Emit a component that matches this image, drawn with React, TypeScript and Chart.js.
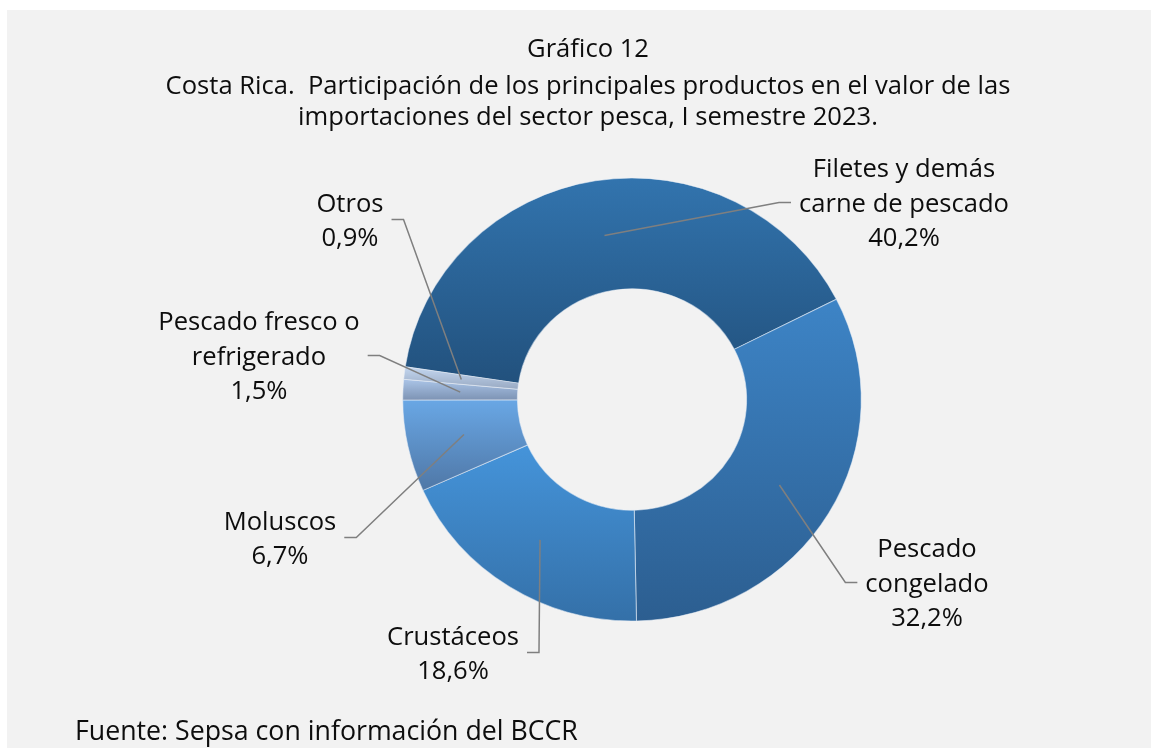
import React, { useEffect, useRef } from "react";
import { Chart, registerables } from "chart.js";

Chart.register(...registerables);

// ---- data ----
const categories: string[][] = [
  ["Filetes y demás", "carne de pescado"],
  ["Pescado", "congelado"],
  ["Crustáceos"],
  ["Moluscos"],
  ["Pescado fresco o", "refrigerado"],
  ["Otros"],
];
const shares: number[] = [40.2, 32.2, 18.6, 6.7, 1.5, 0.9];

const titleLines: string[] = [
  "Gráfico 12",
  "Costa Rica.  Participación de los principales productos en el valor de las",
  "importaciones del sector pesca, I semestre 2023.",
];
const sourceNote = "Fuente: Sepsa con información del BCCR";

// ---- styles / layout ----
const topColors = ["#3274ae", "#3d84c6", "#4594da", "#69a7e5", "#abc5e8", "#c4d7f0"];
const bottomColors = ["#22517d", "#2c5e90", "#3470a8", "#4f77a6", "#7d93b4", "#98a9c2"];
// label block centre, relative to the doughnut centre (px)
const labelOffsets: [number, number][] = [
  [272, -195],
  [295, 185],
  [-179, 255],
  [-352, 140],
  [-373, -42],
  [-282, -178],
];
const ROTATION = -81.5;
const CUTOUT = 0.5;
const X_STRETCH = 1.035;
const FONT_FAMILY = "'Open Sans', Lato, sans-serif";
const TITLE_TARGET_WIDTH = 845;
const SOURCE_SCALE = 1.045;
const TEXT_COLOR = "#0d0d0d";
const LINE_H = 34.5;

const fmtPct = (v: number) => v.toFixed(1).replace(".", ",") + "%";

let fontSize = 22;
const fontOf = (scale = 1) => `${fontSize * scale}px ${FONT_FAMILY}`;

const fitFont = (ctx: CanvasRenderingContext2D) => {
  ctx.save();
  ctx.font = `100px ${FONT_FAMILY}`;
  const w = ctx.measureText(titleLines[1]).width;
  ctx.restore();
  if (w > 0) fontSize = (100 * TITLE_TARGET_WIDTH) / w;
};

const sliceGradient = (c: any) => {
  const i = c.dataIndex;
  const chart = c.chart;
  const area = chart.chartArea;
  if (i === undefined || !area) return topColors[0];
  const total = shares.reduce((a, b) => a + b, 0);
  const before = shares.slice(0, i).reduce((a, b) => a + b, 0);
  const start = ((ROTATION - 90) * Math.PI) / 180 + (before / total) * Math.PI * 2;
  const end = start + (shares[i] / total) * Math.PI * 2;
  const cy = (area.top + area.bottom) / 2;
  const outer = Math.min(area.width, area.height) / 2;
  const inner = outer * CUTOUT;
  let minY = Infinity;
  let maxY = -Infinity;
  for (let k = 0; k <= 60; k++) {
    const a = start + ((end - start) * k) / 60;
    for (const r of [inner, outer]) {
      const y = cy + Math.sin(a) * r;
      minY = Math.min(minY, y);
      maxY = Math.max(maxY, y);
    }
  }
  if (maxY - minY < 1) maxY = minY + 1;
  const g = chart.ctx.createLinearGradient(0, minY, 0, maxY);
  g.addColorStop(0, topColors[i]);
  g.addColorStop(1, bottomColors[i]);
  return g;
};

const decorPlugin = {
  id: "decor",
  beforeDraw(chart: any) {
    const ctx = chart.ctx;
    fitFont(ctx);
    ctx.save();
    ctx.font = fontOf();
    ctx.fillStyle = TEXT_COLOR;
    ctx.textAlign = "center";
    ctx.textBaseline = "alphabetic";
    const baselines = [47, 84, 115];
    titleLines.forEach((t, k) => ctx.fillText(t, 581, baselines[k]));
    ctx.textAlign = "left";
    ctx.font = fontOf(SOURCE_SCALE);
    ctx.fillText(sourceNote, 68, 730);
    ctx.restore();
  },
  beforeDatasetsDraw(chart: any) {
    const ctx = chart.ctx;
    const a = chart.chartArea;
    const cx = (a.left + a.right) / 2;
    const cy = (a.top + a.bottom) / 2;
    ctx.save();
    ctx.translate(cx, cy);
    ctx.scale(X_STRETCH, 1);
    ctx.translate(-cx, -cy);
  },
  afterDatasetsDraw(chart: any) {
    const ctx = chart.ctx;
    ctx.restore();
    const meta = chart.getDatasetMeta(0);
    ctx.save();
    ctx.font = fontOf();
    meta.data.forEach((arc: any, i: number) => {
      const p = arc.getProps(["x", "y", "startAngle", "endAngle", "innerRadius", "outerRadius"], true);
      const mid = (p.startAngle + p.endAngle) / 2;
      const r = (p.innerRadius + p.outerRadius) / 2;
      const ax = p.x + Math.cos(mid) * r * X_STRETCH;
      const ay = p.y + Math.sin(mid) * r;
      const lines = [...categories[i], fmtPct(shares[i])];
      const [ox, oy] = labelOffsets[i];
      const lx = p.x + ox;
      const ly = p.y + oy;
      const maxW = Math.max(...lines.map((l) => ctx.measureText(l).width));
      const side = ox >= 0 ? -1 : 1;
      const endX = lx + side * (maxW / 2 + 8);
      const endY = ly - 2;
      const bendX = endX + side * 12;
      ctx.strokeStyle = "#7f7f7f";
      ctx.lineWidth = 1.5;
      ctx.beginPath();
      ctx.moveTo(ax, ay);
      ctx.lineTo(bendX, endY);
      ctx.lineTo(endX, endY);
      ctx.stroke();
      ctx.fillStyle = TEXT_COLOR;
      ctx.textAlign = "center";
      ctx.textBaseline = "middle";
      lines.forEach((l, k) => {
        ctx.fillText(l, lx, ly + (k - (lines.length - 1) / 2) * LINE_H);
      });
    });
    ctx.restore();
  },
};

export default function App() {
  const ref = useRef<HTMLCanvasElement | null>(null);
  useEffect(() => {
    if (!ref.current) return;
    const chart = new Chart(ref.current, {
      type: "doughnut",
      data: {
        labels: categories.map((c) => c.join(" ")),
        datasets: [
          {
            data: shares,
            backgroundColor: sliceGradient as any,
            borderColor: "rgba(235,240,248,0.55)",
            borderWidth: 1,
            clip: false as any,
          },
        ],
      },
      options: {
        responsive: false,
        animation: false,
        events: [],
        rotation: ROTATION,
        cutout: "50%",
        layout: { padding: { top: 167, bottom: 126, left: 403, right: 297 } },
        plugins: {
          legend: { display: false },
          title: { display: false },
          tooltip: { enabled: false },
        },
      },
      plugins: [decorPlugin],
    });
    return () => chart.destroy();
  }, []);
  return (
    <div
      style={{
        position: "absolute",
        left: 7,
        top: 10,
        width: 1144,
        height: 738,
        background: "#f2f2f2",
      }}
    >
      <canvas ref={ref} width={1144} height={738} style={{ display: "block" }} />
    </div>
  );
}
